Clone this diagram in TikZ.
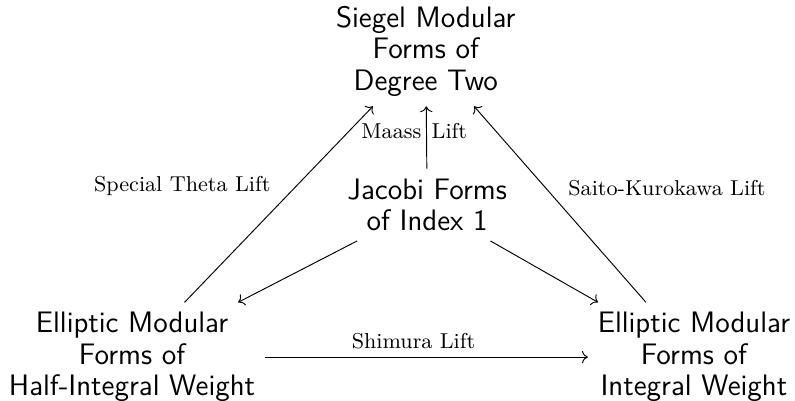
\documentclass[tikz,border=0pt]{standalone}
\usepackage{tikz}
\usetikzlibrary{positioning, arrows.meta, calc}
\begin{document}
\begin{tikzpicture}[form/.style={align=center, font=\fontsize{12.5}{13.3}\selectfont\sffamily, inner sep=4pt},lift/.style={font=\fontsize{9.1}{11}\selectfont},arr/.style={->}]
\useasboundingbox (0,0) rectangle (11.8,-5.94);
\node[form] (siegel) at (6.32,-0.76) {Siegel Modular\\Forms of\\Degree Two};
\node[form] (jacobi) at (6.34,-3.04) {Jacobi Forms\\of Index 1};
\node[form] (half) at (1.96,-5.30) {Elliptic Modular\\Forms of\\Half-Integral Weight};
\node[form] (integral) at (10.30,-5.30) {Elliptic Modular\\Forms of\\Integral Weight};
\draw[arr] (half) -- node[lift, above left] {Special Theta Lift} (siegel);
\draw[arr] (integral) -- node[lift, above right] {Saito-Kurokawa Lift} (siegel);
\draw[arr] (jacobi) -- node[lift, pos=0.6, left, inner sep=2pt] {Maass} node[lift, pos=0.6, right, inner sep=2pt] {Lift} (siegel);
\draw[arr] (jacobi) -- (half); \draw[arr] (jacobi) -- (integral);
\draw[arr] (half) -- node[lift, above, pos=0.46] {Shimura Lift} (integral);
\end{tikzpicture}
\end{document}
